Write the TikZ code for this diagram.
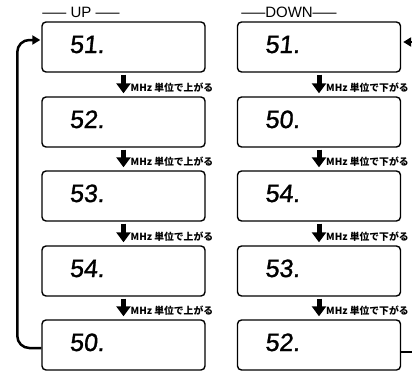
\documentclass[tikz,border=0pt]{standalone}
\usepackage{graphicx}
\usepackage{fontspec}
\setmainfont{Liberation Sans}
\newfontfamily\segfont[FakeSlant=0.1,FakeBold=1.2]{Liberation Sans}
\newfontfamily\jpfont{Noto Sans CJK JP}
\usetikzlibrary{arrows.meta,calc}
\newcommand\hdrdash{\scalebox{1.6}[1]{—}}
\begin{document}
\begin{tikzpicture}[x=1pt,y=-1pt,
 disp/.style={draw, line width=1.4pt, rounded corners=4pt, minimum width=163pt, minimum height=50pt, inner sep=0pt},
 digits/.style={font=\segfont\fontsize{25}{25}\selectfont, anchor=base west, inner sep=0pt},
 darr/.style={line width=5pt, -{Triangle[width=14pt,length=10pt]}, shorten <=2pt, shorten >=3pt},
 lab/.style={font=\jpfont\bfseries\fontsize{9.8}{10}\selectfont, anchor=west, inner sep=0pt},
 loopline/.style={line width=2.5pt, rounded corners=12pt},
 hdr/.style={font=\fontsize{15}{15}\selectfont, inner sep=0pt}]
\useasboundingbox[fill=white] (0,0) rectangle (412,372);

% headers
\node[hdr] (hu) at (81,12) {\hdrdash\ UP \hdrdash};
\node[hdr] (hd) at (289,12) {\hdrdash DOWN\hdrdash};

% UP column
\foreach \i/\y/\t in {1/47/51., 2/122/52., 3/196/53., 4/271/54., 5/345/50.} {
  \node[disp] (u\i) at (123.5,\y) {};
  \node[digits] (ut\i) at ($(u\i.west)+(28,6)$) {\t};
}
% DOWN column
\foreach \i/\y/\t in {1/47/51., 2/122/50., 3/196/54., 4/271/53., 5/345/52.} {
  \node[disp] (d\i) at (319,\y) {};
  \node[digits] (dt\i) at ($(d\i.west)+(28,6)$) {\t};
}

% down arrows and labels
\foreach \i/\j in {1/2, 2/3, 3/4, 4/5} {
  \draw[darr] (u\i.south) -- (u\j.north);
  \node[lab] (ul\i) at ($(u\i.south)!0.5!(u\j.north)+(7,3)$) {MHz 単位で上がる};
  \draw[darr] (d\i.south) -- (d\j.north);
  \node[lab] (dl\i) at ($(d\i.south)!0.5!(d\j.north)+(7,3)$) {MHz 単位で下がる};
}

% UP loop back
\draw[loopline, -{Triangle[width=9pt,length=8pt]}]
  ($(u5.west)+(0,3)$) -- ($(u5.west)+(-24,3)$) -- ($(u1.west)+(-24,-7)$) -- ($(u1.west)+(-1,-7)$);

% DOWN loop (cropped at the right edge)
\coordinate (rtop) at (412,42);
\coordinate (rbot) at (412,352);
\draw[line width=2.5pt, -{Triangle[width=9pt,length=8pt]}] (rtop) -- ($(d1.east)+(2,-5)$);
\draw[line width=2.5pt] (d5.east |- rbot) -- (rbot);
\end{tikzpicture}
\end{document}
